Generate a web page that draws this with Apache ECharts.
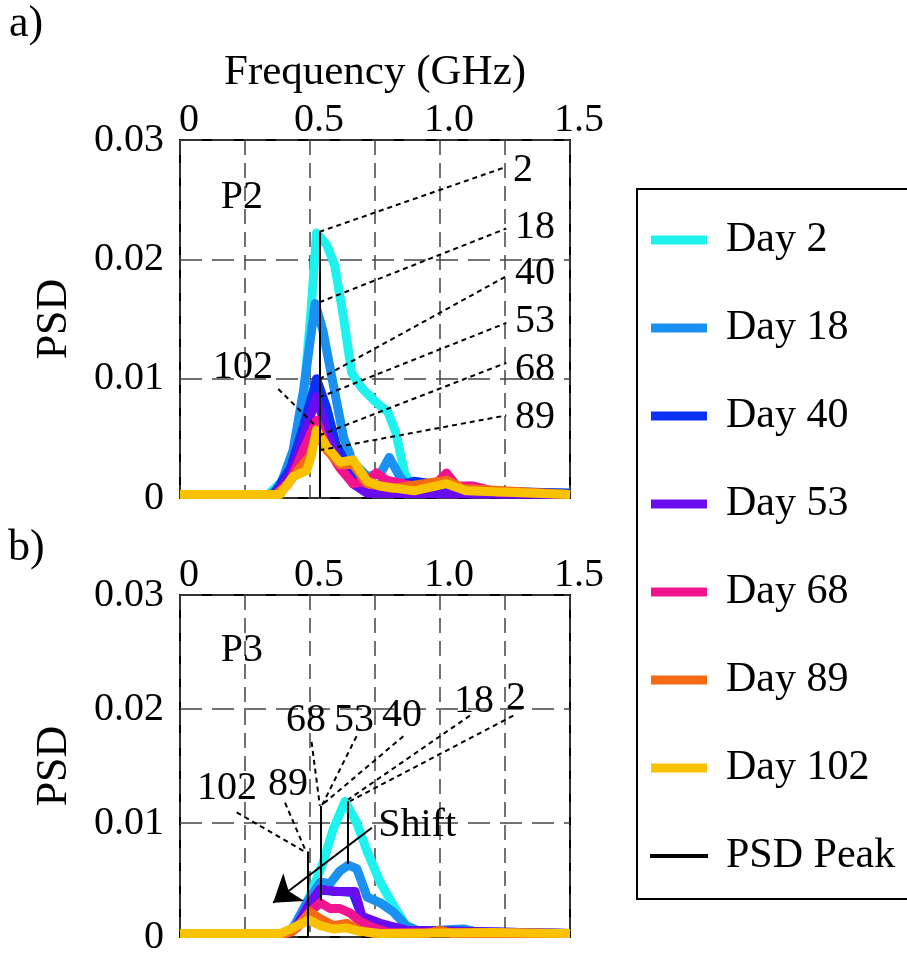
<!DOCTYPE html>
<html><head><meta charset="utf-8">
<script src="https://cdn.jsdelivr.net/npm/echarts@6/dist/echarts.min.js"></script>
<style>html,body{margin:0;padding:0;background:#fff}#c{width:907px;height:957px}</style>
</head><body><div id="c"></div>
<script>
// ---------- DATA ----------
const days = ['Day 2','Day 18','Day 40','Day 53','Day 68','Day 89','Day 102'];
const colors = ['#1EF2EE','#1A90F0','#0A30F2','#6A0CF0','#F2148F','#F56A14','#F9C200'];
const xTickLabels = ['0','0.5','1.0','1.5'];
const yTickLabels = ['0','0.01','0.02','0.03'];

// Panel a (P2): [frequency GHz, PSD]
const a_day2   = [[0,0.0003],[0.34,0.0003],[0.42,0.002],[0.47,0.007],[0.505,0.016],[0.525,0.0222],[0.565,0.0212],[0.595,0.0195],[0.63,0.015],[0.66,0.0105],[0.70,0.0092],[0.755,0.008],[0.80,0.0072],[0.83,0.0055],[0.865,0.002],[0.90,0.0008],[1.0,0.0006],[1.115,0.001],[1.2,0.0005],[1.5,0.0004]];
const a_day18  = [[0,0.0003],[0.35,0.0003],[0.385,0.001],[0.435,0.004],[0.475,0.009],[0.52,0.0163],[0.55,0.014],[0.585,0.01],[0.63,0.005],[0.665,0.003],[0.72,0.0018],[0.77,0.002],[0.805,0.0034],[0.845,0.0018],[0.885,0.0008],[1.0,0.0006],[1.115,0.0008],[1.2,0.0005],[1.5,0.0004]];
const a_day40  = [[0,0.0003],[0.36,0.0003],[0.425,0.0025],[0.475,0.006],[0.525,0.01],[0.565,0.0075],[0.6,0.0045],[0.655,0.0022],[0.72,0.0012],[0.82,0.001],[0.9,0.0014],[0.97,0.0012],[1.09,0.0008],[1.15,0.0006],[1.5,0.0004]];
const a_day53  = [[0,0.0003],[0.37,0.0003],[0.425,0.002],[0.475,0.005],[0.525,0.0085],[0.565,0.0055],[0.615,0.003],[0.665,0.0012],[0.72,0.0004],[1.5,0.0003]];
const a_day68  = [[0,0.0003],[0.37,0.0003],[0.425,0.0015],[0.475,0.004],[0.525,0.0065],[0.565,0.0042],[0.615,0.0025],[0.665,0.0012],[0.72,0.0014],[0.755,0.0021],[0.795,0.0015],[0.9,0.001],[0.975,0.001],[1.025,0.0021],[1.065,0.001],[1.13,0.001],[1.22,0.0005],[1.5,0.0003]];
const a_day89  = [[0,0.0003],[0.37,0.0003],[0.41,0.001],[0.46,0.0025],[0.5,0.0035],[0.525,0.0055],[0.565,0.004],[0.615,0.0028],[0.665,0.0028],[0.72,0.0012],[0.82,0.0008],[1.025,0.0015],[1.09,0.0008],[1.5,0.0003]];
const a_day102 = [[0,0.0003],[0.385,0.0003],[0.435,0.0018],[0.487,0.0023],[0.505,0.0035],[0.525,0.0057],[0.565,0.0043],[0.615,0.003],[0.665,0.0032],[0.72,0.0014],[0.77,0.001],[0.9,0.0006],[1.025,0.0012],[1.1,0.0006],[1.5,0.0003]];

// Panel b (P3)
const b_day2   = [[0,0.0003],[0.41,0.0003],[0.46,0.0015],[0.515,0.0045],[0.55,0.0065],[0.59,0.0095],[0.635,0.0119],[0.68,0.01],[0.72,0.0075],[0.77,0.0048],[0.82,0.0028],[0.87,0.001],[0.92,0.0005],[1.5,0.0003]];
const b_day18  = [[0,0.0003],[0.40,0.0003],[0.435,0.0008],[0.487,0.003],[0.54,0.0048],[0.577,0.0047],[0.615,0.0058],[0.647,0.0063],[0.68,0.006],[0.72,0.0035],[0.77,0.003],[0.82,0.0022],[0.87,0.001],[0.92,0.0005],[1.09,0.0007],[1.15,0.0004],[1.5,0.0003]];
const b_day40  = [[0,0.0003],[0.41,0.0003],[0.45,0.001],[0.5,0.0029],[0.54,0.0041],[0.615,0.004],[0.665,0.0039],[0.70,0.0018],[0.77,0.0011],[0.87,0.0006],[1.5,0.0003]];
const b_day53  = [[0,0.0003],[0.41,0.0003],[0.45,0.001],[0.5,0.003],[0.54,0.0042],[0.59,0.004],[0.63,0.004],[0.673,0.004],[0.70,0.0018],[0.77,0.0012],[0.87,0.0006],[1.5,0.0003]];
const b_day68  = [[0,0.0003],[0.41,0.0003],[0.45,0.0008],[0.5,0.0022],[0.54,0.003],[0.577,0.0025],[0.615,0.0025],[0.655,0.0021],[0.69,0.0014],[0.745,0.0008],[0.8,0.0004],[1.5,0.0003]];
const b_day89  = [[0,0.0003],[0.40,0.0003],[0.435,0.0005],[0.475,0.0015],[0.5,0.0022],[0.54,0.0016],[0.59,0.001],[0.64,0.0012],[0.69,0.0006],[0.745,0.0003],[0.95,0.0003],[1.0,0.0006],[1.05,0.0003],[1.5,0.0003]];
const b_day102 = [[0,0.0003],[0.385,0.0003],[0.435,0.0008],[0.495,0.0015],[0.54,0.001],[0.59,0.0007],[0.64,0.0008],[0.69,0.0005],[0.77,0.0003],[1.2,0.0004],[1.5,0.0003]];

// PSD peak markers (segments) and annotation leaders
const a_peaks = [[[0.536,0],[0.536,0.0223]]];
const b_peaks = [[[0.49,0],[0.49,0.0075]],[[0.54,0.0032],[0.54,0.0115]],[[0.647,0.0064],[0.647,0.0119]]];
const a_leaders = [[[0.536,0.0223],[1.255,0.02775]],[[0.536,0.0164],[1.255,0.02258]],[[0.536,0.00997],[1.255,0.01858]],[[0.536,0.00844],[1.255,0.01467]],[[0.536,0.00525],[1.255,0.01133]],[[0.536,0.0040],[1.255,0.00692]],[[0.378,0.00914],[0.526,0.00594]]];
const b_leaders = [[[0.218,0.01094],[0.481,0.00747]],[[0.404,0.01178],[0.485,0.00747]],[[0.506,0.01711],[0.538,0.0115]],[[0.679,0.01761],[0.545,0.0115]],[[0.859,0.01761],[0.549,0.01164]],[[1.115,0.01942],[0.647,0.01206]],[[1.282,0.01942],[0.654,0.01192]]];
const b_arrow = [[0.738,0.00958],[0.358,0.003]];

// annotation labels: [text, freq, psd] (text centre)
const a_labels = [['2',1.319,0.02742],['18',1.365,0.02267],['40',1.365,0.01883],['53',1.365,0.01483],['68',1.365,0.01075],['89',1.365,0.00675],['102',0.242,0.0109],['P2',0.238,0.0252]];
const b_labels = [['102',0.181,0.013],['89',0.415,0.0134],['68',0.485,0.019],['53',0.669,0.019],['40',0.854,0.0194],['18',1.131,0.0207],['2',1.292,0.0209],['P3',0.238,0.0251],['Shift',0.912,0.00975]];

// ---------- CHART ----------
const FONT = 'Liberation Serif';
const chart = echarts.init(document.getElementById('c'), null, {renderer:'canvas'});

const aSeriesData = [a_day2,a_day18,a_day40,a_day53,a_day68,a_day89,a_day102];
const bSeriesData = [b_day2,b_day18,b_day40,b_day53,b_day68,b_day89,b_day102];

function curveSeries(dataArr, idx){
  return dataArr.map((d,i)=>({
    type:'line', name:days[i], xAxisIndex:idx, yAxisIndex:idx, data:d,
    showSymbol:false, symbol:'none', color:colors[i],
    lineStyle:{color:colors[i], width:9, join:'round'}, z:2+i, animation:false
  }));
}
function segs(arr){ return arr.map(c=>({coords:c})); }

function xAxisDef(idx, withName){
  return {
    type:'value', gridIndex:idx, position:'top', min:0, max:1.5, interval:0.25,
    name: withName ? 'Frequency (GHz)' : '', nameLocation:'middle', nameGap:46,
    nameTextStyle:{fontFamily:FONT, fontSize:43, color:'#000'},
    axisLine:{show:false}, axisTick:{show:false},
    axisLabel:{fontFamily:FONT, fontSize:40, color:'#000', margin:0, padding:[0,0,0,18],
      formatter:v=>{const k=Math.round(v/0.5);return Math.abs(v-k*0.5)<1e-9?xTickLabels[k]:'';}},
    splitLine:{show:true, lineStyle:{color:'#444', width:1.5, type:[15,8]}}
  };
}
function yAxisDef(idx){
  return {
    type:'value', gridIndex:idx, min:0, max:0.03, interval:0.01,
    name:'PSD', nameLocation:'middle', nameGap:104,
    nameTextStyle:{fontFamily:FONT, fontSize:44, color:'#000'},
    axisLine:{show:false}, axisTick:{show:false},
    axisLabel:{fontFamily:FONT, fontSize:40, color:'#000', margin:16,
      formatter:v=>yTickLabels[Math.round(v/0.01)]},
    splitLine:{show:true, lineStyle:{color:'#444', width:1.5, type:[22,10]}}
  };
}
function labelSeries(arr, idx){
  return {
    type:'scatter', name:'labels'+idx, xAxisIndex:idx, yAxisIndex:idx, symbolSize:0,
    itemStyle:{opacity:1, color:'#000'},
    data:arr.map(l=>({name:l[0], value:[l[1],l[2]]})), silent:true, z:20, animation:false,
    label:{show:true, position:'inside', formatter:'{b}', fontFamily:FONT, fontSize:40, color:'#000', opacity:1, textBorderWidth:0}
  };
}

const series = [
  ...curveSeries(aSeriesData,0),
  ...curveSeries(bSeriesData,1),
  {type:'lines', name:'PSD Peak', coordinateSystem:'cartesian2d', xAxisIndex:0, yAxisIndex:0, data:segs(a_peaks),
    lineStyle:{color:'#000', width:2, opacity:1}, itemStyle:{color:'#000'}, z:15, animation:false},
  {type:'lines', name:'PSD Peak', coordinateSystem:'cartesian2d', xAxisIndex:1, yAxisIndex:1, data:segs(b_peaks),
    lineStyle:{color:'#000', width:2, opacity:1}, itemStyle:{color:'#000'}, z:15, animation:false},
  {type:'lines', name:'leadersA', coordinateSystem:'cartesian2d', xAxisIndex:0, yAxisIndex:0, data:segs(a_leaders),
    lineStyle:{color:'#000', width:2, type:[5,4], opacity:1}, z:16, animation:false},
  {type:'lines', name:'leadersB', coordinateSystem:'cartesian2d', xAxisIndex:1, yAxisIndex:1, data:segs(b_leaders),
    lineStyle:{color:'#000', width:2, type:[5,4], opacity:1}, z:16, animation:false},
  {type:'lines', name:'shift', coordinateSystem:'cartesian2d', xAxisIndex:1, yAxisIndex:1, data:[{coords:b_arrow}],
    symbol:['none','arrow'], symbolSize:[22,26], lineStyle:{color:'#000', width:2, opacity:1}, itemStyle:{color:'#000'}, z:17, animation:false},
  labelSeries(a_labels,0),
  labelSeries(b_labels,1)
];

chart.setOption({
  animation:false,
  backgroundColor:'#fff',
  textStyle:{fontFamily:FONT},
  grid:[
    {left:180, top:140, width:390, height:358, show:true, borderColor:'#000', borderWidth:2, backgroundColor:'transparent'},
    {left:180, top:595, width:390, height:358, show:true, borderColor:'#000', borderWidth:2, backgroundColor:'transparent'}
  ],
  xAxis:[xAxisDef(0,true), xAxisDef(1,false)],
  yAxis:[yAxisDef(0), yAxisDef(1)],
  legend:{
    orient:'vertical', left:637, top:189, padding:[27,16,19,13], itemGap:40,
    itemWidth:56, itemHeight:9, icon:'rect', selectedMode:false,
    borderColor:'#000', borderWidth:2, backgroundColor:'#fff',
    textStyle:{fontFamily:FONT, fontSize:42, color:'#000', lineHeight:48, padding:[0,0,0,14]},
    data:[...days.map((d,i)=>({name:d, itemStyle:{color:colors[i]}})),
      {name:'PSD Peak', icon:'path://M0,0H56V2H0Z', itemStyle:{color:'#000'}}]
  },
  graphic:[
    {type:'text', left:9, top:2, style:{text:'a)', fontFamily:FONT, fontSize:44, fill:'#000'}},
    {type:'text', left:8, top:526, style:{text:'b)', fontFamily:FONT, fontSize:44, fill:'#000'}}
  ],
  series
});
</script>
</body></html>
